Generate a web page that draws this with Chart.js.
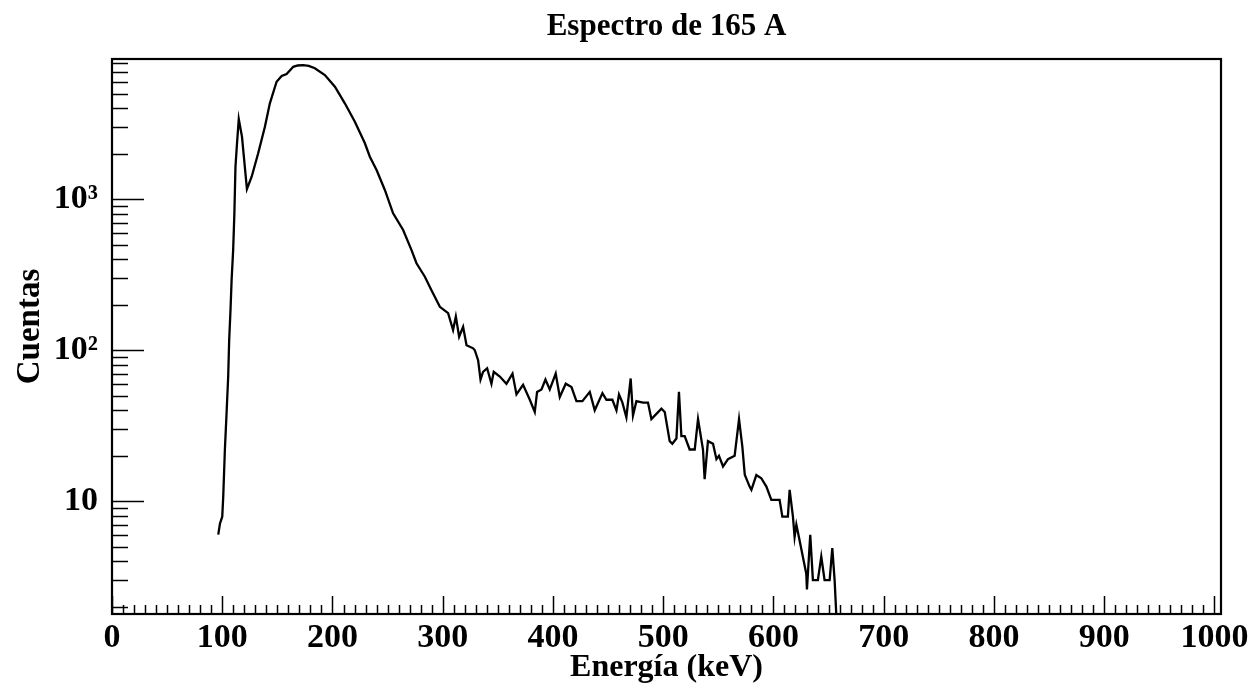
<!DOCTYPE html>
<html lang="es">
<head>
<meta charset="utf-8">
<title>Espectro de 165 A</title>
<script src="https://cdn.jsdelivr.net/npm/chart.js@4/dist/chart.umd.min.js"></script>
<style>
  html, body { margin: 0; padding: 0; background: #fff; }
  canvas { display: block; }
</style>
</head>
<body>
<canvas id="espectro" width="1249" height="692"></canvas>
<script>
// Energía de cada punto del espectro (keV)
const energia = [
  96.4, 97.9, 100.0, 100.9, 102.4, 103.9, 105.4, 106.3, 107.5, 108.5,
  109.9, 111.0, 112.0, 113.4, 115.0, 117.9, 122.4, 126.7, 132.6, 138.7,
  143.2, 149.3, 153.9, 158.4, 164.4, 168.5, 173.4, 178.5, 184.0, 193.1,
  202.2, 211.2, 220.3, 229.4, 233.9, 240.0, 247.5, 255.0, 264.1, 271.7,
  276.2, 283.8, 289.8, 297.4, 304.9, 309.4, 311.9, 314.9, 318.5, 321.6,
  327.6, 329.1, 332.1, 334.3, 336.6, 340.3, 344.2, 346.3, 351.8, 357.8,
  363.3, 366.9, 372.9, 379.0, 383.5, 385.6, 389.6, 393.2, 397.1, 402.5,
  406.2, 411.6, 416.8, 421.3, 426.7, 433.4, 437.9, 444.9, 448.5, 453.9,
  457.6, 459.9, 463.0, 466.6, 470.5, 472.6, 475.7, 481.7, 486.2, 489.3,
  498.4, 501.4, 505.9, 508.3, 512.0, 514.3, 516.5, 519.5, 524.0, 528.6,
  531.6, 536.1, 537.6, 540.6, 545.2, 548.3, 550.6, 554.3, 558.8, 564.8,
  568.8, 571.8, 574.0, 578.4, 580.0, 584.5, 589.0, 593.6, 598.1, 605.6,
  608.1, 613.1, 614.7, 617.7, 619.2, 620.8, 623.1, 629.8, 630.4, 633.4,
  635.8, 640.3, 643.4, 646.4, 651.0, 653.4, 655.5, 657.0
];

// Cuentas registradas en cada energía (0 = canal vacío)
const cuentas = [
  6.0, 7.1, 7.9, 10.7, 22, 38, 67, 117, 185, 292,
  461, 800, 1644, 2349, 3400, 2600, 1170, 1411, 2018, 3027,
  4325, 6010, 6560, 6765, 7550, 7700, 7745, 7650, 7380, 6650,
  5570, 4325, 3265, 2349, 1914, 1563, 1153, 807, 626, 461,
  377, 307, 250, 194, 176, 136, 167, 123, 143, 108,
  103, 100, 86, 64, 72, 76, 60, 72, 67, 60,
  70, 51, 59, 47, 39, 53, 55, 64, 55, 70,
  49, 60, 57, 46, 46, 53, 40, 52, 47, 47,
  40, 51, 45, 36, 65, 37, 46, 45, 45, 35,
  41, 39, 25, 24, 26, 53, 27, 27, 22, 22,
  35, 22, 14, 25, 24, 19, 20, 17, 19, 20,
  35, 23, 15, 12.5, 11.9, 14.9, 14.2, 12.5, 10.2, 10.2,
  7.9, 7.9, 11.9, 7.9, 5.8, 7.0, 5.8, 3.3, 2.6, 6.0,
  3.0, 3.0, 4.3, 3.0, 3.0, 4.9, 3.0, 0
];

// Rótulos de los ejes
const xTickValues = [0, 100, 200, 300, 400, 500, 600, 700, 800, 900, 1000];
const yTickValues = [10, 100, 1000];
const yTickLabels = ['10', '10²', '10³'];

// Rango de los ejes
const xRange = [0, 1006];
const yRange = [1.79, 8500];

const fuente = "'Liberation Serif', 'Times New Roman', serif";

// Marcas hacia dentro del marco, al estilo de un histograma de física
const marcasInternas = {
  id: 'marcasInternas',
  afterDatasetsDraw(chart) {
    const { ctx, chartArea: a, scales: { x, y } } = chart;
    ctx.save();
    ctx.strokeStyle = '#000';
    ctx.lineWidth = 1.5;
    ctx.beginPath();
    for (let v = 0; v <= x.max; v += 10) {
      const px = Math.round(x.getPixelForValue(v)) + 0.5;
      const len = v % 100 === 0 ? 18 : 9;
      ctx.moveTo(px, a.bottom);
      ctx.lineTo(px, a.bottom - len);
    }
    for (let e = 0; e <= 4; e++) {
      for (let m = 1; m <= 9; m++) {
        const v = m * Math.pow(10, e);
        if (v < y.min || v > y.max) continue;
        const py = Math.round(y.getPixelForValue(v)) + 0.5;
        const len = m === 1 ? 32 : 16;
        ctx.moveTo(a.left, py);
        ctx.lineTo(a.left + len, py);
      }
    }
    ctx.stroke();
    ctx.lineWidth = 2.2;
    ctx.strokeRect(a.left, a.top, a.right - a.left, a.bottom - a.top);

    // Título del eje vertical
    ctx.fillStyle = '#000';
    ctx.font = `bold 33px ${fuente}`;
    ctx.textAlign = 'center';
    ctx.textBaseline = 'middle';
    ctx.translate(30, (a.top + a.bottom) / 2 - 10);
    ctx.rotate(-Math.PI / 2);
    ctx.fillText('Cuentas', 0, 0);
    ctx.restore();
  }
};

new Chart(document.getElementById('espectro'), {
  type: 'line',
  data: {
    datasets: [{
      // los canales vacíos se apoyan sobre el eje inferior
      data: energia.map((e, i) => ({ x: e, y: cuentas[i] > 0 ? cuentas[i] : yRange[0] })),
      borderColor: '#000',
      borderWidth: 2.3,
      pointRadius: 0,
      tension: 0,
      fill: false
    }]
  },
  options: {
    responsive: false,
    animation: false,
    layout: { padding: { top: 0, right: 28, bottom: 0, left: 0 } },
    plugins: {
      legend: { display: false },
      tooltip: { enabled: false },
      title: {
        display: true,
        text: 'Espectro de 165 A',
        fullSize: false,
        color: '#000',
        font: { family: fuente, size: 31, weight: 'bold', lineHeight: 1.2 },
        padding: { top: 8, bottom: 13.8 }
      }
    },
    scales: {
      x: {
        type: 'linear',
        min: xRange[0],
        max: xRange[1],
        afterBuildTicks: s => { s.ticks = xTickValues.map(v => ({ value: v })); },
        afterFit: s => { s.height = 78; s.paddingLeft = 0; s.paddingRight = 0; },
        grid: { display: false, drawTicks: false },
        border: { display: false },
        ticks: {
          autoSkip: false,
          maxRotation: 0,
          padding: 4,
          color: '#000',
          font: { family: fuente, size: 34, weight: 'bold', lineHeight: 1.2 },
          callback: v => String(v)
        },
        title: {
          display: true,
          text: 'Energía (keV)',
          color: '#000',
          font: { family: fuente, size: 32, weight: 'bold', lineHeight: 1.2 },
          padding: { top: 0, bottom: 5 }
        }
      },
      y: {
        type: 'logarithmic',
        min: yRange[0],
        max: yRange[1],
        afterBuildTicks: s => { s.ticks = yTickValues.map(v => ({ value: v })); },
        afterFit: s => { s.width = 112; s.paddingTop = 0; s.paddingBottom = 0; },
        grid: { display: false, drawTicks: false },
        border: { display: false },
        ticks: {
          autoSkip: false,
          padding: 14,
          color: '#000',
          font: { family: fuente, size: 34, weight: 'bold' },
          callback: v => yTickLabels[yTickValues.indexOf(v)] ?? ''
        },
        title: { display: false }
      }
    }
  },
  plugins: [marcasInternas]
});
</script>
</body>
</html>
